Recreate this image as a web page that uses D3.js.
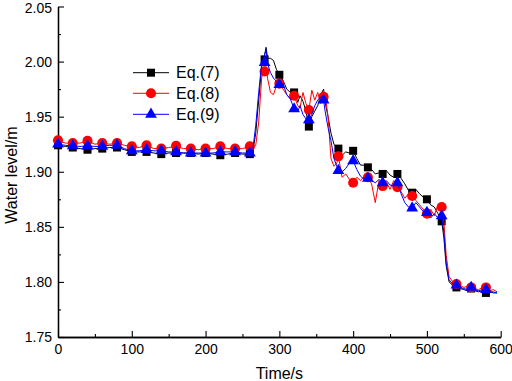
<!DOCTYPE html>
<html>
<head>
<meta charset="utf-8">
<script src="https://cdn.jsdelivr.net/npm/d3@7"></script>
<style>
  body { margin: 0; background: #fff; }
  svg { display: block; font-family: "Liberation Sans", Arial, sans-serif; }
</style>
</head>
<body>
<svg id="chart" width="512" height="381"></svg>
<script>
// line samples (time, s)
var lineTime = [0,10,20,30,40,50,60,70,80,90,100,110,120,130,140,150,160,170,180,190,200,210,220,230,240,250,260,
  264,268,272,276,280,282,284,288,292,296,300,
  305,310,315,320,325,328,332,336,340,344,348,352,356,360,362,366,370,374,378,380,
  385,390,395,400,405,410,415,420,425,430,435,440,445,450,455,460,465,470,475,480,485,490,495,500,505,510,515,520,
  523,526,530,535,540,545,550,555,560,565,570,575,580,585,590,595];

var lineEq7 = [1.924,1.923,1.922,1.921,1.920,1.921,1.921,1.922,1.922,1.920,1.918,1.918,1.918,1.917,1.916,1.917,1.917,1.917,1.917,1.916,1.917,1.916,1.915,1.916,1.917,1.916,1.916,
  1.918,1.935,1.965,1.995,2.006,2.013,2.003,2.003,2.001,1.993,1.988,
  1.983,1.975,1.972,1.972,1.963,1.969,1.964,1.955,1.941,1.950,1.955,1.960,1.970,1.975,1.963,1.950,1.935,1.925,1.922,1.921,
  1.915,1.918,1.917,1.919,1.912,1.906,1.906,1.904,1.902,1.898,1.899,1.898,1.901,1.897,1.895,1.898,1.894,1.889,1.883,1.881,1.884,1.880,1.877,1.875,1.870,1.868,1.862,1.855,
  1.840,1.815,1.800,1.797,1.795,1.794,1.793,1.792,1.794,1.792,1.791,1.792,1.790,1.791,1.790,1.790];

var lineEq8 = [1.928,1.926,1.926,1.926,1.928,1.925,1.926,1.925,1.926,1.924,1.923,1.922,1.924,1.921,1.921,1.922,1.923,1.921,1.921,1.920,1.921,1.921,1.923,1.921,1.921,1.921,1.923,
  1.921,1.924,1.945,1.985,1.998,1.995,1.985,1.972,1.970,1.978,1.981,
  1.975,1.970,1.966,1.969,1.960,1.958,1.972,1.962,1.956,1.974,1.965,1.972,1.962,1.968,1.970,1.950,1.912,1.905,1.908,1.914,
  1.895,1.898,1.893,1.890,1.895,1.892,1.896,1.895,1.889,1.872,1.892,1.887,1.891,1.884,1.892,1.886,1.882,1.876,1.880,1.878,1.874,1.870,1.866,1.862,1.866,1.860,1.870,1.868,
  1.855,1.825,1.805,1.800,1.798,1.797,1.795,1.796,1.795,1.794,1.793,1.795,1.795,1.792,1.793,1.791];

var lineEq9 = [1.925,1.924,1.9235,1.923,1.9235,1.923,1.923,1.924,1.924,1.921,1.919,1.919,1.920,1.919,1.919,1.918,1.918,1.917,1.917,1.917,1.917,1.917,1.918,1.918,1.918,1.917,1.917,
  1.920,1.942,1.972,1.998,2.006,2.011,1.998,1.990,1.985,1.982,1.979,
  1.980,1.970,1.966,1.957,1.955,1.960,1.952,1.948,1.947,1.952,1.960,1.965,1.968,1.965,1.955,1.940,1.928,1.912,1.905,1.901,
  1.900,1.903,1.908,1.910,1.902,1.896,1.893,1.894,1.892,1.890,1.893,1.890,1.892,1.888,1.887,1.890,1.880,1.872,1.868,1.867,1.872,1.868,1.864,1.863,1.858,1.862,1.858,1.860,
  1.845,1.818,1.802,1.798,1.797,1.795,1.794,1.793,1.795,1.793,1.792,1.793,1.793,1.791,1.791,1.790];

// symbols every 20 s
var markTime = [0,20,40,60,80,100,120,140,160,180,200,220,240,260,280,300,320,340,360,380,400,420,440,460,480,500,520,540,560,580];
var markEq7 = [1.924,1.922,1.920,1.921,1.922,1.918,1.918,1.916,1.917,1.917,1.917,1.915,1.917,1.916,2.002,1.988,1.972,1.941,1.967,1.921,1.919,1.904,1.898,1.898,1.881,1.875,1.855,1.795,1.794,1.790];
var markEq8 = [1.9286,1.926,1.928,1.926,1.926,1.923,1.924,1.921,1.9235,1.921,1.921,1.923,1.921,1.923,1.991,1.980,1.969,1.956,1.968,1.914,1.890,1.895,1.887,1.886,1.878,1.862,1.868,1.798,1.795,1.795];
var markEq9 = [1.925,1.9235,1.9235,1.923,1.924,1.919,1.920,1.919,1.918,1.917,1.917,1.918,1.918,1.917,1.999,1.979,1.957,1.947,1.965,1.901,1.910,1.894,1.890,1.890,1.867,1.863,1.860,1.797,1.795,1.793];

var seriesNames = ["Eq.(7)", "Eq.(8)", "Eq.(9)"];
var xTicks = [0,100,200,300,400,500,600];
var yTicks = [1.75,1.80,1.85,1.90,1.95,2.00,2.05];

var series = [
  { name: seriesNames[0], color: "#000000", symbol: d3.symbolSquare,   size: 64, line: lineEq7, mark: markEq7 },
  { name: seriesNames[1], color: "#ff0000", symbol: d3.symbolCircle,   size: 80, line: lineEq8, mark: markEq8 },
  { name: seriesNames[2], color: "#0000ff", symbol: d3.symbolTriangle, size: 60, line: lineEq9, mark: markEq9 }
];

var svg = d3.select("#chart");

var x = d3.scaleLinear().domain([0, 600]).range([58, 500.7]);
var y = d3.scaleLinear().domain([1.75, 2.05]).range([337, 6.5]);

// minor ticks first, then major ticks on top
var xMinor = xTicks.slice(0, -1).map(function(t){ return t + 50; });
var yMinor = yTicks.slice(0, -1).map(function(t){ return t + 0.025; });

svg.append("g")
  .attr("transform", "translate(0," + y(1.75) + ")")
  .call(d3.axisBottom(x).tickValues(xMinor).tickSizeInner(-3).tickSizeOuter(0).tickFormat(""));
svg.append("g")
  .attr("transform", "translate(" + x(0) + ",0)")
  .call(d3.axisLeft(y).tickValues(yMinor).tickSizeInner(-3).tickSizeOuter(0).tickFormat(""));

svg.append("g")
  .attr("transform", "translate(0," + y(1.75) + ")")
  .call(d3.axisBottom(x).tickValues(xTicks).tickSizeInner(-6).tickSizeOuter(0).tickPadding(7));
var yAxis = svg.append("g")
  .attr("transform", "translate(" + x(0) + ",0)")
  .call(d3.axisLeft(y).tickValues(yTicks).tickSizeInner(-6).tickSizeOuter(0).tickPadding(6).tickFormat(d3.format(".2f")));

svg.selectAll(".domain").attr("stroke", "#000").attr("stroke-width", 1.3);
svg.selectAll(".tick line").attr("stroke", "#000").attr("stroke-width", 1.1);
svg.selectAll(".tick text").attr("fill", "#000").style("font-size", "14px");

// top label sits at the window edge, nudge it down a little
yAxis.selectAll(".tick text")
  .filter(function(d){ return d === 2.05; })
  .attr("dy", "0.46em");

// axis titles
svg.append("text")
  .attr("x", (x(0) + x(600)) / 2)
  .attr("y", 379)
  .attr("text-anchor", "middle")
  .style("font-size", "16px")
  .text("Time/s");

svg.append("text")
  .attr("transform", "translate(17," + y(1.897) + ") rotate(-90)")
  .attr("text-anchor", "middle")
  .style("font-size", "16px")
  .text("Water level/m");

var line = d3.line()
  .x(function(d){ return x(d.t); })
  .y(function(d){ return y(d.v); });

series.forEach(function(s){
  var pts = lineTime.map(function(t, i){ return { t: t, v: s.line[i] }; });
  var marks = markTime.map(function(t, i){ return { t: t, v: s.mark[i] }; });

  svg.append("path")
    .datum(pts)
    .attr("fill", "none")
    .attr("stroke", s.color)
    .attr("stroke-width", 1)
    .attr("stroke-linejoin", "round")
    .attr("d", line);

  svg.append("g").selectAll("path")
    .data(marks)
    .enter().append("path")
    .attr("transform", function(d){ return "translate(" + x(d.t) + "," + y(d.v) + ")"; })
    .attr("fill", s.color)
    .attr("d", d3.symbol().type(s.symbol).size(s.size));
});

// legend
var legendY = [72.7, 93.3, 114.3];
var legend = svg.append("g");
series.forEach(function(s, i){
  var row = legend.append("g").attr("transform", "translate(0," + legendY[i] + ")");
  row.append("line")
    .attr("x1", 133).attr("x2", 169)
    .attr("stroke", s.color)
    .attr("stroke-width", 1);
  row.append("path")
    .attr("transform", "translate(151,0)")
    .attr("fill", s.color)
    .attr("d", d3.symbol().type(s.symbol).size(s.size));
  row.append("text")
    .attr("x", 176)
    .attr("dy", "0.35em")
    .style("font-size", "16px")
    .text(s.name);
});
</script>
</body>
</html>
